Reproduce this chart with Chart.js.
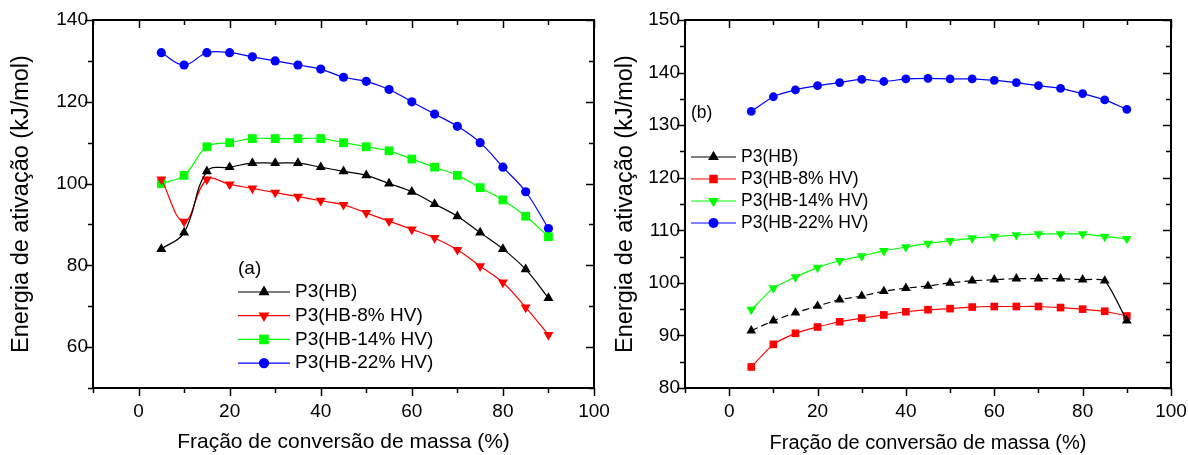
<!DOCTYPE html>
<html lang="pt">
<head>
<meta charset="UTF-8">
<title>Energia de ativação</title>
<script src="https://cdn.jsdelivr.net/npm/chart.js"></script>
<style>
  body { margin: 0; background: #fff; }
  .box { position: absolute; top: 0; height: 455px; }
</style>
</head>
<body>
<div class="box" style="left:0;width:640px"><canvas id="chartA"></canvas></div>
<div class="box" style="left:600px;width:588px"><canvas id="chartB"></canvas></div>
<script>
// conversion fraction (%)
const conversao = [5, 10, 15, 20, 25, 30, 35, 40, 45, 50, 55, 60, 65, 70, 75, 80, 85, 90];

// (a)
const hbA   = [84, 88, 103, 104, 105, 105, 105, 104, 103, 102, 100, 98, 95, 92, 88, 84, 79, 72];
const hb8A  = [101, 90.7, 101, 99.8, 98.8, 97.8, 96.8, 95.8, 94.8, 92.8, 90.8, 88.8, 86.7, 83.8, 79.8, 75.8, 69.7, 63];
const hb14A = [100, 102, 109, 110, 111, 111, 111, 111, 110, 109, 108, 106, 104, 102, 99, 96, 92, 87];
const hb22A = [132, 129, 132, 132, 131, 130, 129, 128, 126, 125, 123, 120, 117, 114, 110, 104, 98, 89];

// (b)
const hbB   = [90.9, 92.8, 94.3, 95.6, 96.8, 97.5, 98.4, 99.0, 99.4, 100.0, 100.4, 100.6, 100.8, 100.8, 100.8, 100.6, 100.4, 92.8];
const hb8B  = [84, 88.3, 90.4, 91.6, 92.6, 93.3, 93.9, 94.5, 94.9, 95.1, 95.4, 95.5, 95.5, 95.5, 95.3, 95.0, 94.6, 93.7];
const hb14B = [94.9, 99, 101.1, 102.9, 104.2, 105.1, 106.1, 106.8, 107.5, 108, 108.5, 108.8, 109.1, 109.3, 109.3, 109.3, 108.8, 108.4];
const hb22B = [132.6, 135.4, 136.7, 137.5, 138.1, 138.7, 138.3, 138.8, 138.9, 138.8, 138.8, 138.5, 138.1, 137.5, 137, 136, 134.8, 133];

const labels = ["P3(HB)", "P3(HB-8% HV)", "P3(HB-14% HV)", "P3(HB-22% HV)"];
const xTicks = [0, 20, 40, 60, 80, 100];
const yTicksA = [60, 80, 100, 120, 140];
const yTicksB = [80, 90, 100, 110, 120, 130, 140, 150];

const FONT = "'Liberation Sans', Arial, sans-serif";
Chart.defaults.font.family = FONT;
Chart.defaults.color = "#000";

function pts(ys) {
  return ys.map((y, i) => ({ x: conversao[i], y: y }));
}

function marker(ctx, style, x, y, r, color) {
  ctx.save();
  ctx.fillStyle = color;
  ctx.beginPath();
  if (style === "circle") {
    ctx.arc(x, y, r, 0, Math.PI * 2);
  } else if (style === "rect") {
    const s = r * Math.SQRT1_2;
    ctx.rect(x - s, y - s, 2 * s, 2 * s);
  } else {
    const d = style === "down" ? -1 : 1;
    ctx.moveTo(x, y - d * r);
    ctx.lineTo(x + r * 0.866, y + d * r * 0.5);
    ctx.lineTo(x - r * 0.866, y + d * r * 0.5);
    ctx.closePath();
  }
  ctx.fill();
  ctx.restore();
}

// frame, mirrored ticks and the inside legend
const framePlugin = {
  id: "frame",
  afterDraw(chart, args, opts) {
    const ctx = chart.ctx;
    const a = chart.chartArea;
    const xs = chart.scales.x, ys = chart.scales.y;
    ctx.save();
    ctx.strokeStyle = "#000";
    ctx.lineWidth = 2;
    ctx.strokeRect(a.left, a.top, a.right - a.left, a.bottom - a.top);
    ctx.lineWidth = 1.5;
    ctx.beginPath();
    for (let v = xs.min; v <= xs.max + 0.01; v += 10) {
      const len = v % 20 === 0 ? 8 : 5;
      const px = Math.round(xs.getPixelForValue(v)) + 0.5;
      ctx.moveTo(px, a.bottom); ctx.lineTo(px, a.bottom + len);
      ctx.moveTo(px, a.top); ctx.lineTo(px, a.top + len);
    }
    for (let v = ys.min; v <= ys.max + 0.01; v += opts.minor) {
      const len = v % opts.major === 0 ? 8 : 5;
      const py = Math.round(ys.getPixelForValue(v)) + 0.5;
      ctx.moveTo(a.left - len, py); ctx.lineTo(a.left, py);
      ctx.moveTo(a.right, py); ctx.lineTo(a.right - len, py);
    }
    ctx.stroke();

    // legend
    const L = opts.legend;
    ctx.font = L.size + "px " + FONT;
    ctx.textBaseline = "middle";
    ctx.fillStyle = "#000";
    ctx.fillText(L.tag, L.x, L.tagY);
    chart.data.datasets.forEach((ds, i) => {
      const y = L.y + i * L.gap;
      ctx.strokeStyle = ds.borderColor;
      ctx.lineWidth = 1.2;
      ctx.setLineDash([]);
      ctx.beginPath();
      ctx.moveTo(L.x, y); ctx.lineTo(L.x + L.len, y);
      ctx.stroke();
      marker(ctx, ds.mk, L.x + L.len / 2, y, ds.pointRadius + 0.6, ds.borderColor);
      ctx.fillStyle = "#000";
      ctx.fillText(ds.label, L.x + L.len + 5, y);
    });
    ctx.restore();
  }
};

function dataset(i, ys, color, mk, r, tension, extra) {
  const style = mk === "down" || mk === "up" ? "triangle" : mk;
  return Object.assign({
    label: labels[i],
    data: pts(ys),
    borderColor: color,
    backgroundColor: color,
    borderWidth: 1.2,
    pointStyle: style,
    rotation: mk === "down" ? 180 : 0,
    pointRadius: r,
    pointBorderWidth: 0,
    tension: tension,
    mk: mk
  }, extra || {});
}

function makeChart(id, datasets, yMin, yMax, yTicks, pad, yWidth, yTitlePad, xTitleSize, plug) {
  return new Chart(document.getElementById(id), {
    type: "line",
    data: { datasets: datasets },
    options: {
      responsive: true,
      maintainAspectRatio: false,
      animation: false,
      layout: { padding: pad },
      plugins: { legend: { display: false }, tooltip: { enabled: false }, frame: plug },
      scales: {
        x: {
          type: "linear", min: -10, max: 100,
          afterBuildTicks: (s) => { s.ticks = xTicks.map(v => ({ value: v })); },
          afterFit: (s) => { s.height = 67; s.paddingLeft = 0; s.paddingRight = 0; },
          grid: { display: false, drawTicks: false },
          border: { display: false },
          ticks: { font: { size: 19 }, padding: 12, maxRotation: 0 },
          title: { display: true, text: "Fração de conversão de massa (%)", font: { size: xTitleSize }, padding: { top: 0, bottom: 0 } }
        },
        y: {
          type: "linear", min: yMin, max: yMax,
          afterBuildTicks: (s) => { s.ticks = yTicks.map(v => ({ value: v })); },
          afterFit: (s) => { s.width = yWidth; s.paddingTop = 0; s.paddingBottom = 0; },
          grid: { display: false, drawTicks: false },
          border: { display: false },
          ticks: { font: { size: 19 }, padding: 5 },
          title: { display: true, text: "Energia de ativação (kJ/mol)", font: { size: 23.5 }, padding: { top: yTitlePad, bottom: 0 } }
        }
      }
    },
    plugins: [framePlugin]
  });
}

makeChart("chartA", [
  dataset(0, hbA, "#000000", "up", 5.8, 0.4),
  dataset(1, hb8A, "#ff0000", "down", 5.8, 0.4),
  dataset(2, hb14A, "#00ff00", "rect", 6.2, 0.4),
  dataset(3, hb22A, "#0000ff", "circle", 4.6, 0.4)
], 50, 140, yTicksA, { left: 0, top: 20, right: 46, bottom: 0 }, 93, 7, 21,
  { minor: 10, major: 20, legend: { tag: "(a)", x: 238, tagY: 269, y: 292, gap: 23.7, len: 52, size: 19 } });

makeChart("chartB", [
  dataset(0, hbB, "#000000", "up", 5.6, 0.2, {
    segment: { borderDash: (c) => c.p1DataIndex === 17 ? [] : [7, 4] }
  }),
  dataset(1, hb8B, "#ff0000", "rect", 5.4, 0.2),
  dataset(2, hb14B, "#00ff00", "down", 5.6, 0.2),
  dataset(3, hb22B, "#0000ff", "circle", 4.4, 0.2)
], 80, 150, yTicksB, { left: 0, top: 20, right: 17, bottom: 0 }, 85, 11, 20,
  { minor: 5, major: 10, legend: { tag: "(b)", x: 91, tagY: 113, y: 157, gap: 22, len: 45, size: 17.5 } });
</script>
</body>
</html>
